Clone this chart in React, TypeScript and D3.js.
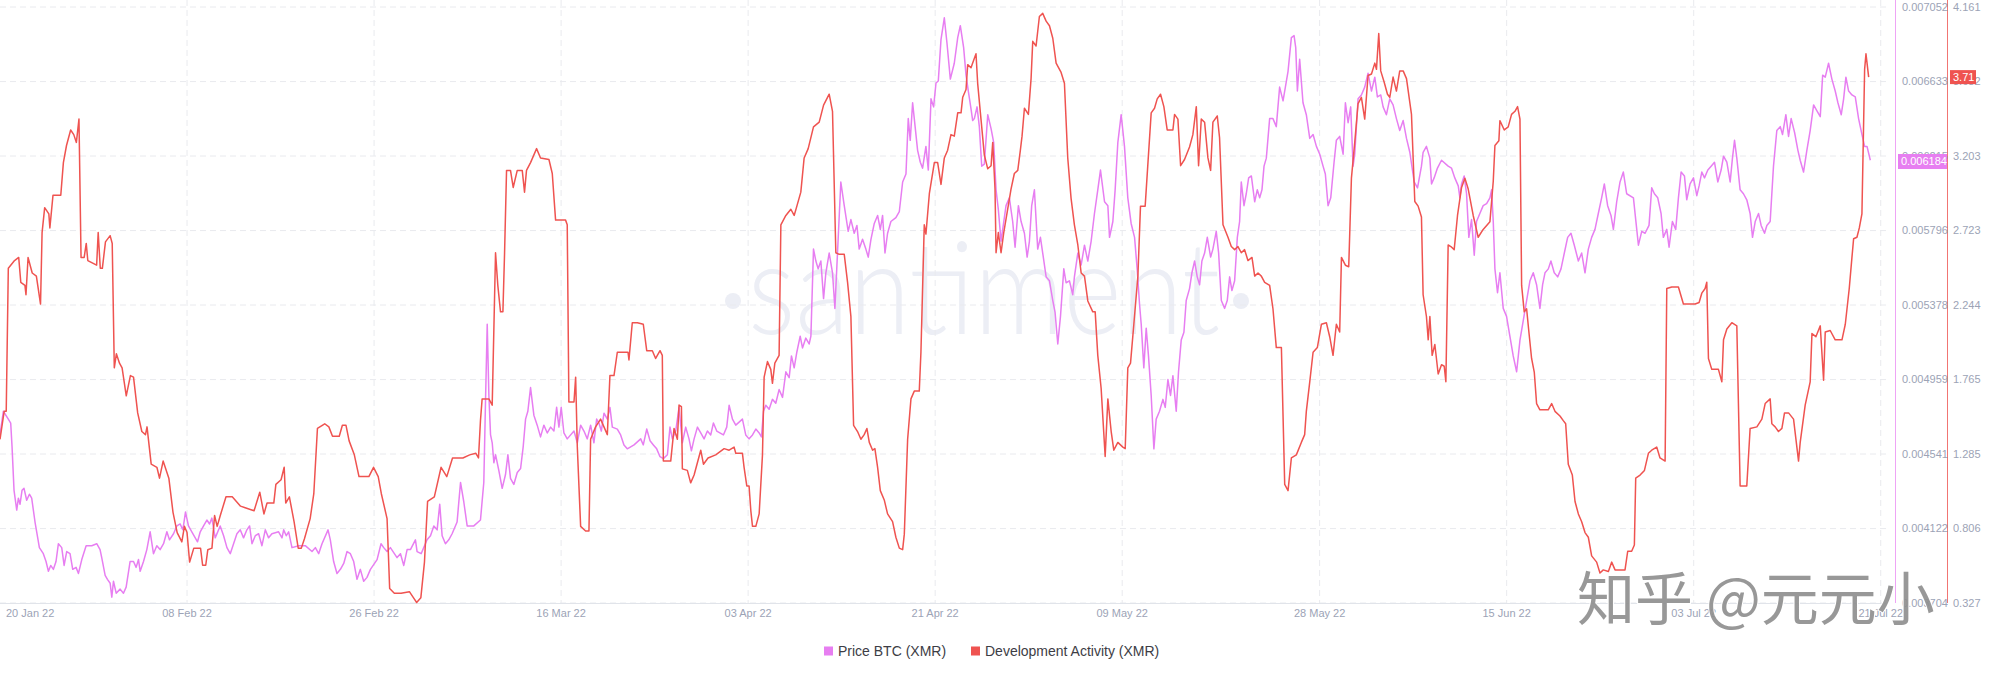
import React from "react"
import * as d3 from "d3"

// day offsets are counted from 21 Jan 2022 00:00 UTC
const START = Date.UTC(2022, 0, 21)
const DAY = 86400000
const LAST_DAY = 181.7

const xTickDates = ["2022-01-20", "2022-02-08", "2022-02-26", "2022-03-16", "2022-04-03", "2022-04-21", "2022-05-09", "2022-05-28", "2022-06-15", "2022-07-03", "2022-07-21"]
const priceTicks = [0.003704, 0.004122, 0.004541, 0.004959, 0.005378, 0.005796, 0.006215, 0.006633, 0.007052]
const devTicks = [0.327, 0.806, 1.285, 1.765, 2.244, 2.723, 3.203, 3.682, 4.161]

const lastPrice = 0.006184
const lastDev = 3.71

// [day, price in BTC]
const priceBTC: [number, number][] = [
  [0, 0.004648], [0.32, 0.004781], [0.8, 0.004737], [1.03, 0.004715], [1.16, 0.004581], [1.35, 0.004337], [1.61, 0.004226], [1.77, 0.004293], [1.93, 0.004259], [2.12, 0.004337], [2.31, 0.004348], [2.57, 0.004281], [2.83, 0.004315], [3.05, 0.004293], [3.37, 0.004159], [3.79, 0.004015], [4.17, 0.003981], [4.43, 0.003937], [4.66, 0.003882], [4.88, 0.003915], [5.14, 0.003893], [5.39, 0.003937], [5.62, 0.004037], [5.94, 0.004015], [6.17, 0.003915], [6.42, 0.003993], [6.74, 0.003981], [7.0, 0.003893], [7.32, 0.003904], [7.55, 0.00387], [7.87, 0.003948], [8.29, 0.004026], [8.83, 0.004026], [9.31, 0.004037], [9.63, 0.004004], [9.79, 0.003959], [10.12, 0.003859], [10.34, 0.003837], [10.6, 0.003815], [10.76, 0.003737], [10.92, 0.003826], [11.18, 0.003759], [11.56, 0.003782], [11.88, 0.003759], [12.14, 0.003793], [12.52, 0.003937], [12.85, 0.003937], [13.1, 0.003904], [13.33, 0.003948], [13.49, 0.003882], [13.81, 0.003937], [14.13, 0.004004], [14.45, 0.004104], [14.77, 0.003981], [15.09, 0.004026], [15.41, 0.004004], [15.74, 0.004037], [16.06, 0.004104], [16.31, 0.004059], [16.7, 0.004093], [17.02, 0.004137], [17.34, 0.004148], [17.6, 0.004115], [17.85, 0.004215], [18.14, 0.004137], [18.46, 0.004104], [19.01, 0.004048], [19.27, 0.004104], [19.59, 0.004137], [19.91, 0.00417], [20.17, 0.004148], [20.39, 0.004181], [20.71, 0.00407], [21.19, 0.004137], [21.52, 0.004082], [21.84, 0.004015], [22.16, 0.003981], [22.48, 0.004037], [22.8, 0.004093], [23.12, 0.004115], [23.44, 0.00407], [23.76, 0.004115], [24.02, 0.004137], [24.25, 0.004037], [24.57, 0.004082], [24.89, 0.004093], [25.21, 0.004026], [25.53, 0.004115], [25.85, 0.00407], [26.17, 0.004093], [26.81, 0.004104], [27.14, 0.00407], [27.3, 0.004115], [27.55, 0.004082], [27.78, 0.004104], [28.1, 0.004015], [28.74, 0.004026], [29.38, 0.004026], [30.03, 0.003993], [30.35, 0.004015], [30.67, 0.003981], [30.99, 0.004037], [31.57, 0.004115], [31.79, 0.004059], [32.11, 0.003937], [32.43, 0.00387], [32.76, 0.003893], [33.08, 0.003926], [33.4, 0.003993], [33.72, 0.003981], [34.04, 0.003937], [34.36, 0.003837], [34.68, 0.003893], [35.0, 0.003826], [35.32, 0.003848], [35.65, 0.003893], [36.29, 0.003948], [36.67, 0.004037], [36.93, 0.004015], [37.25, 0.003993], [37.57, 0.004015], [38.21, 0.003959], [38.54, 0.003981], [38.86, 0.003915], [39.18, 0.004004], [39.5, 0.004004], [39.98, 0.004059], [40.14, 0.003993], [40.53, 0.003981], [40.78, 0.004015], [41.1, 0.004059], [41.43, 0.004082], [41.75, 0.004137], [42.07, 0.004115], [42.32, 0.004259], [42.55, 0.004082], [42.87, 0.004037], [43.19, 0.004059], [43.51, 0.004093], [43.99, 0.004159], [44.32, 0.004381], [44.64, 0.00427], [44.96, 0.004137], [45.6, 0.004137], [46.24, 0.00417],
  [46.56, 0.004381], [46.73, 0.004848], [46.89, 0.00527], [47.05, 0.00487], [47.21, 0.004648], [47.37, 0.004604], [47.53, 0.004492], [47.69, 0.004537], [48.01, 0.004448], [48.33, 0.004348], [48.65, 0.004426], [48.88, 0.004537], [49.13, 0.004404], [49.45, 0.00437], [49.78, 0.004437], [50.1, 0.004459], [50.35, 0.004581], [50.58, 0.004737], [50.8, 0.004781], [51.06, 0.004914], [51.38, 0.004759], [51.7, 0.004703], [52.02, 0.004637], [52.34, 0.004703], [52.67, 0.004659], [52.99, 0.004692], [53.31, 0.00467], [53.57, 0.004803], [53.79, 0.004692], [54.01, 0.004803], [54.27, 0.004659], [54.59, 0.004626], [55.24, 0.00467], [55.56, 0.004604], [55.88, 0.004703], [56.2, 0.00467], [56.52, 0.004626], [56.84, 0.004703], [57.16, 0.004604], [57.42, 0.004737], [57.64, 0.004715], [57.87, 0.00467], [58.13, 0.00477], [58.45, 0.004737], [58.7, 0.004803], [58.93, 0.004692], [59.41, 0.004681], [59.73, 0.004648], [60.05, 0.004592], [60.37, 0.00457], [61.02, 0.004592], [61.66, 0.004626], [61.91, 0.004592], [62.24, 0.004681], [62.56, 0.004615], [62.88, 0.004592], [63.2, 0.00457], [63.52, 0.004526], [63.84, 0.004515], [64.23, 0.004537], [64.48, 0.004692], [64.71, 0.004626], [65.03, 0.00467], [65.35, 0.004803], [65.67, 0.004604], [65.99, 0.004692], [66.31, 0.004626], [66.54, 0.004559], [66.8, 0.004626], [67.12, 0.004692], [67.44, 0.004659], [67.76, 0.004626], [68.08, 0.00467], [68.4, 0.004648], [68.66, 0.004715], [68.98, 0.00467], [69.62, 0.004648], [69.94, 0.004692], [70.17, 0.004815], [70.49, 0.004737], [70.81, 0.004703], [71.45, 0.004737], [71.77, 0.004648], [72.09, 0.004626], [72.42, 0.004648], [72.74, 0.004681], [73.06, 0.004659], [73.28, 0.004637], [73.48, 0.004781], [73.7, 0.004815], [74.02, 0.004792], [74.34, 0.004848], [74.66, 0.004826], [74.98, 0.004903], [75.31, 0.004859], [75.63, 0.005003], [75.95, 0.00497], [76.17, 0.005092], [76.43, 0.005025], [76.69, 0.005114], [77.01, 0.005203], [77.23, 0.005137], [77.55, 0.005192], [77.87, 0.005159], [78.04, 0.005203], [78.29, 0.005692], [78.52, 0.005625], [78.74, 0.005581], [79.0, 0.005625], [79.26, 0.005414], [79.48, 0.005559], [79.8, 0.00567], [80.12, 0.005559], [80.35, 0.005359], [80.6, 0.00567], [80.92, 0.006069], [81.25, 0.005936], [81.63, 0.005792], [81.89, 0.005858], [82.21, 0.005781], [82.47, 0.005825], [82.69, 0.005692], [83.01, 0.005747], [83.33, 0.005692], [83.56, 0.005647], [83.82, 0.005747], [84.14, 0.005836], [84.46, 0.005881], [84.72, 0.005803], [84.94, 0.005881], [85.17, 0.00567], [85.42, 0.005781], [85.74, 0.005847], [86.22, 0.005869], [86.55, 0.005903], [86.87, 0.006069], [87.19, 0.006114], [87.41, 0.006425], [87.6, 0.006303], [87.83, 0.006514], [87.99, 0.006425], [88.31, 0.006247], [88.57, 0.00618], [88.79, 0.006147], [89.11, 0.006269], [89.34, 0.006136], [89.6, 0.006536], [89.85, 0.006491], [90.08, 0.006625], [90.3, 0.006636], [90.56, 0.006869], [90.88, 0.006991], [91.14, 0.006847], [91.46, 0.006647],
  [91.84, 0.006736], [92.17, 0.00688], [92.42, 0.006947], [92.74, 0.006824], [92.97, 0.006669], [93.19, 0.00658], [93.45, 0.00648], [93.61, 0.006414], [93.77, 0.006425], [94.03, 0.006491], [94.25, 0.00638], [94.48, 0.006158], [94.73, 0.006169], [95.06, 0.006447], [95.38, 0.006369], [95.63, 0.006291], [95.86, 0.006025], [96.08, 0.005914], [96.34, 0.005736], [96.5, 0.005803], [96.82, 0.005936], [97.14, 0.00598], [97.46, 0.005847], [97.69, 0.005703], [98.01, 0.005936], [98.27, 0.005847], [98.59, 0.005781], [98.85, 0.005647], [99.07, 0.005736], [99.29, 0.005936], [99.55, 0.006025], [99.87, 0.005692], [100.13, 0.005758], [100.35, 0.00567], [100.68, 0.005536], [101.0, 0.005514], [101.32, 0.005403], [101.54, 0.005336], [101.8, 0.005159], [102.06, 0.005314], [102.38, 0.005581], [102.6, 0.005503], [102.92, 0.005514], [103.24, 0.005436], [103.4, 0.005536], [103.73, 0.00567], [104.05, 0.005603], [104.37, 0.005714], [104.69, 0.005625], [105.01, 0.005736], [105.33, 0.005892], [105.65, 0.006025], [105.91, 0.006136], [106.3, 0.005958], [106.62, 0.005936], [106.78, 0.005758], [107.1, 0.005847], [107.32, 0.006025], [107.58, 0.006291], [107.9, 0.006447], [108.22, 0.006269], [108.54, 0.00598], [108.86, 0.005836], [109.19, 0.005758], [109.44, 0.005581], [109.67, 0.005381], [109.83, 0.00527], [110.08, 0.005025], [110.31, 0.005248], [110.53, 0.005092], [110.79, 0.00487], [111.05, 0.00457], [111.27, 0.004737], [111.59, 0.004781], [111.92, 0.004848], [112.14, 0.004803], [112.4, 0.004959], [112.65, 0.00487], [112.88, 0.004981], [113.2, 0.004781], [113.42, 0.005003], [113.68, 0.005181], [113.94, 0.005225], [114.16, 0.005403], [114.48, 0.00547], [114.71, 0.005559], [114.97, 0.005625], [115.22, 0.005536], [115.45, 0.005492], [115.67, 0.005625], [115.93, 0.00567], [116.19, 0.005758], [116.51, 0.005647], [116.73, 0.005692], [117.05, 0.005792], [117.28, 0.00567], [117.54, 0.005403], [117.86, 0.005359], [118.11, 0.005403], [118.34, 0.005536], [118.56, 0.005459], [118.82, 0.005514], [119.08, 0.005758], [119.3, 0.005847], [119.46, 0.006069], [119.72, 0.005936], [119.94, 0.006003], [120.17, 0.006092], [120.43, 0.006103], [120.75, 0.005958], [121.0, 0.006025], [121.23, 0.00598], [121.45, 0.006025], [121.65, 0.006158], [121.87, 0.006203], [122.19, 0.006425], [122.51, 0.006425], [122.83, 0.00638], [123.15, 0.006602], [123.48, 0.006525], [123.96, 0.006691], [124.28, 0.00688], [124.54, 0.006891], [124.7, 0.006824], [124.86, 0.00658], [125.08, 0.006758], [125.4, 0.006514], [125.72, 0.006447], [126.05, 0.006314], [126.37, 0.006336], [126.69, 0.006269], [127.01, 0.006225], [127.33, 0.006158], [127.55, 0.006114], [127.81, 0.005936], [128.07, 0.00598], [128.39, 0.00618], [128.61, 0.006303], [128.93, 0.006325], [129.26, 0.006225], [129.48, 0.006514], [129.74, 0.006402], [129.99, 0.006491], [130.22, 0.006158], [130.38, 0.006225], [130.7, 0.006536], [131.02, 0.006558], [131.34, 0.006602], [131.66, 0.00668], [131.99, 0.00658], [132.31, 0.006658], [132.56, 0.006547], [132.88, 0.006558], [133.11, 0.006491], [133.43, 0.006447], [133.75, 0.006536], [134.07, 0.006502], [134.39, 0.006425], [134.71, 0.006358], [135.04, 0.006414], [135.36, 0.006314], [135.68, 0.006236], [136.1, 0.006069], [136.42, 0.006036], [136.8, 0.006158],
  [136.96, 0.006236], [137.28, 0.006269], [137.61, 0.006203], [137.77, 0.006058], [138.02, 0.006092], [138.34, 0.006147], [138.73, 0.006191], [139.37, 0.006158], [139.69, 0.006147], [140.01, 0.006092], [140.34, 0.006047], [140.5, 0.00598], [140.66, 0.006058], [140.91, 0.006103], [141.14, 0.006003], [141.36, 0.005758], [141.62, 0.005858], [141.88, 0.005658], [142.1, 0.005847], [142.42, 0.005892], [142.74, 0.005936], [143.07, 0.005947], [143.39, 0.00598], [143.55, 0.006025], [143.71, 0.005847], [143.87, 0.005581], [144.12, 0.005447], [144.35, 0.005559], [144.67, 0.005359], [144.99, 0.005314], [145.31, 0.005203], [145.63, 0.005092], [145.96, 0.005003], [146.28, 0.005181], [146.6, 0.005292], [146.92, 0.005403], [147.24, 0.005514], [147.56, 0.005559], [147.88, 0.005492], [148.2, 0.005359], [148.46, 0.005492], [148.69, 0.005559], [149.01, 0.005581], [149.26, 0.005625], [149.58, 0.005559], [149.91, 0.005536], [150.23, 0.005581], [150.55, 0.00567], [150.87, 0.005758], [151.19, 0.005781], [151.51, 0.005714], [151.9, 0.005625], [152.22, 0.00567], [152.54, 0.005559], [152.86, 0.005692], [153.18, 0.005758], [153.5, 0.005803], [153.82, 0.005892], [154.14, 0.00598], [154.4, 0.006058], [154.72, 0.005936], [155.04, 0.005881], [155.27, 0.005803], [155.59, 0.005958], [155.91, 0.006069], [156.23, 0.006125], [156.55, 0.006003], [157.2, 0.00598], [157.42, 0.005858], [157.68, 0.005714], [158.0, 0.005792], [158.32, 0.005781], [158.7, 0.005825], [158.96, 0.006036], [159.22, 0.006003], [159.54, 0.00598], [159.86, 0.005892], [160.08, 0.005758], [160.41, 0.005803], [160.63, 0.005703], [160.95, 0.005847], [161.27, 0.005803], [161.53, 0.00598], [161.79, 0.006125], [162.11, 0.006103], [162.33, 0.005969], [162.65, 0.006058], [162.98, 0.006092], [163.3, 0.005992], [163.52, 0.006047], [163.78, 0.006125], [164.04, 0.006092], [164.36, 0.006136], [164.68, 0.006158], [165.0, 0.00618], [165.32, 0.006069], [165.64, 0.006136], [165.87, 0.006214], [166.19, 0.00618], [166.51, 0.006069], [166.73, 0.006203], [166.93, 0.006303], [167.15, 0.006203], [167.47, 0.006025], [167.79, 0.006003], [168.11, 0.005969], [168.43, 0.005892], [168.66, 0.005758], [168.92, 0.005847], [169.24, 0.005892], [169.49, 0.005825], [169.82, 0.005781], [170.04, 0.005825], [170.36, 0.005847], [170.68, 0.006158], [171.0, 0.006358], [171.33, 0.00638], [171.55, 0.006336], [171.87, 0.006447], [172.13, 0.006325], [172.38, 0.006425], [172.71, 0.006347], [173.03, 0.006247], [173.25, 0.006191], [173.57, 0.006125], [173.89, 0.006247], [174.21, 0.006358], [174.54, 0.006502], [174.86, 0.006469], [175.18, 0.006436], [175.41, 0.006669], [175.66, 0.006658], [175.98, 0.006736], [176.3, 0.006647], [176.62, 0.00658], [176.88, 0.006514], [177.2, 0.006447], [177.43, 0.006536], [177.65, 0.006658], [177.91, 0.00658], [178.23, 0.006558], [178.55, 0.006547], [178.87, 0.006425], [179.19, 0.006336], [179.45, 0.006269], [179.68, 0.006269], [180.0, 0.006191],
]

// [day, development activity]
const devActivity: [number, number][] = [
  [0, 1.38], [0.4, 1.56], [0.6, 1.56], [0.8, 2.48], [1.4, 2.53], [1.8, 2.55], [2, 2.39], [2.4, 2.37], [2.5, 2.31], [2.7, 2.55], [3.1, 2.45], [3.5, 2.43], [3.9, 2.25], [4.05, 2.71], [4.3, 2.87], [4.7, 2.83], [4.8, 2.74], [5.1, 2.95], [5.85, 2.95], [6.1, 3.16], [6.4, 3.27], [6.8, 3.37], [7.1, 3.34], [7.35, 3.29], [7.6, 3.44], [7.8, 2.55], [8.1, 2.55], [8.3, 2.64], [8.45, 2.53], [9.3, 2.5], [9.45, 2.71], [9.65, 2.48], [9.85, 2.48], [10.15, 2.65], [10.6, 2.69], [10.8, 2.64], [11, 1.84], [11.2, 1.93], [11.5, 1.87], [11.75, 1.84], [12.15, 1.66], [12.55, 1.79], [12.85, 1.78], [13.25, 1.55], [13.65, 1.43], [14, 1.41], [14.15, 1.46], [14.55, 1.22], [15.1, 1.2], [15.35, 1.13], [15.7, 1.24], [16.25, 1.13], [16.65, 0.91], [17.05, 0.78], [17.5, 0.72], [17.75, 0.82], [18, 0.78], [18.25, 0.59], [18.65, 0.68], [19.3, 0.68], [19.5, 0.57], [19.8, 0.57], [20, 0.67], [20.4, 0.68], [20.65, 0.89], [20.9, 0.82], [21.2, 0.89], [21.75, 1.01], [22.35, 1.01], [23.15, 0.95], [23.6, 0.94], [24.45, 0.92], [25, 1.04], [25.4, 0.9], [25.7, 0.97], [26.35, 0.97], [26.55, 1.09], [27.05, 1.12], [27.35, 1.2], [27.5, 0.97], [27.85, 1.01], [28.3, 0.85], [28.7, 0.68], [29, 0.68], [29.3, 0.74], [29.85, 0.87], [30.2, 1.03], [30.55, 1.45], [31.25, 1.48], [31.65, 1.46], [32, 1.4], [32.65, 1.4], [32.95, 1.47], [33.3, 1.47], [33.6, 1.37], [34.1, 1.28], [34.55, 1.14], [35.5, 1.14], [35.95, 1.2], [36.4, 1.14], [36.7, 1.03], [37.25, 0.87], [37.5, 0.42], [37.95, 0.39], [38.6, 0.39], [39.4, 0.4], [39.8, 0.36], [40.1, 0.33], [40.5, 0.36], [40.85, 0.59], [41.15, 0.98], [41.8, 1.01], [42.45, 1.2], [43, 1.14], [43.55, 1.26], [44.55, 1.26], [45.2, 1.28], [45.8, 1.29], [46.05, 1.26],
  [46.24, 1.5], [46.4, 1.64], [47.05, 1.64], [47.37, 1.6], [47.69, 2.58], [47.91, 2.37], [48.17, 2.2], [48.4, 2.2], [48.56, 2.58], [48.75, 3.11], [49.13, 3.11], [49.39, 3], [49.78, 3.11], [50.26, 3.11], [50.48, 2.97], [50.67, 3.11], [51.06, 3.16], [51.64, 3.25], [52.02, 3.19], [52.83, 3.18], [53.15, 3.09], [53.47, 2.79], [54.43, 2.79], [54.59, 2.76], [54.75, 1.62], [55.24, 1.62], [55.4, 1.78], [55.56, 1.33], [55.88, 0.82], [56.36, 0.79], [56.68, 0.79], [56.84, 1.38], [57.32, 1.46], [57.8, 1.51], [58.45, 1.41], [58.7, 1.79], [59.09, 1.79], [59.41, 1.94], [60.44, 1.94], [60.53, 1.89], [60.85, 2.13], [61.34, 2.13], [61.91, 2.12], [62.24, 1.95], [62.78, 1.95], [63.1, 1.9], [63.52, 1.95], [63.74, 1.92], [63.84, 1.24], [64.55, 1.24], [64.87, 1.45], [65.19, 1.38], [65.35, 1.6], [65.58, 1.59], [65.67, 1.19], [66.15, 1.18], [66.47, 1.1], [66.8, 1.15], [67.44, 1.31], [67.7, 1.22], [68.14, 1.26], [68.88, 1.28], [69.69, 1.32], [70.17, 1.31], [70.65, 1.33], [70.81, 1.29], [71.45, 1.29], [71.61, 1.2], [71.87, 1.08], [72.09, 1.08], [72.26, 0.92], [72.42, 0.82], [72.74, 0.82], [73.06, 0.9], [73.38, 1.28], [73.54, 1.78], [73.86, 1.88], [74.18, 1.83], [74.34, 1.74], [74.57, 1.87], [74.98, 1.92], [75.15, 2.76], [75.63, 2.82], [76.11, 2.86], [76.43, 2.82], [76.69, 2.88], [77.07, 2.97], [77.39, 3.19], [77.78, 3.25], [78.29, 3.39], [78.84, 3.42], [79.26, 3.53], [79.8, 3.6], [80.12, 3.49], [80.44, 2.58], [80.77, 2.57], [81.25, 2.57], [81.57, 2.39], [81.89, 2.17], [82.15, 1.47], [82.53, 1.43], [82.85, 1.38], [83.17, 1.41], [83.43, 1.45], [83.66, 1.36], [83.98, 1.31], [84.2, 1.32], [84.46, 1.2], [84.72, 1.05], [85.1, 0.99], [85.42, 0.9], [85.9, 0.85], [86.22, 0.75], [86.55, 0.68], [86.87, 0.67], [87.03, 0.77], [87.35, 1.38], [87.67, 1.64], [87.99, 1.69], [88.47, 1.69], [88.63, 1.94], [88.95, 2.76], [89.11, 2.7], [89.44, 2.96], [89.92, 3.16], [90.24, 3.16], [90.56, 3.02], [90.88, 3.19], [91.2, 3.24], [91.52, 3.34],
  [91.84, 3.33], [92.17, 3.48], [92.49, 3.48], [92.65, 3.58], [92.97, 3.63], [93.13, 3.79], [93.45, 3.77], [93.61, 3.8], [93.93, 3.86], [94.09, 3.67], [94.41, 3.44], [94.73, 3.21], [95.06, 3.12], [95.38, 3.14], [95.54, 3.29], [95.76, 2.99], [95.86, 2.58], [96.08, 2.71], [96.34, 2.58], [96.6, 2.71], [96.98, 2.86], [97.3, 2.99], [97.62, 3.09], [97.95, 3.11], [98.2, 3.24], [98.36, 3.33], [98.59, 3.51], [98.97, 3.47], [99.23, 3.7], [99.39, 3.94], [99.71, 3.91], [100.03, 4.1], [100.35, 4.12], [100.68, 4.07], [101, 4.04], [101.32, 3.96], [101.64, 3.8], [102.12, 3.74], [102.44, 3.67], [102.76, 3.19], [103.08, 2.93], [103.4, 2.76], [103.73, 2.63], [104.05, 2.45], [104.37, 2.43], [104.69, 2.27], [105.17, 2.2], [105.4, 2.2], [105.65, 1.92], [105.97, 1.71], [106.36, 1.27], [106.62, 1.64], [106.94, 1.43], [107.19, 1.31], [107.58, 1.36], [108.06, 1.33], [108.29, 1.32], [108.54, 1.84], [108.8, 1.87], [109.12, 2.12], [109.51, 2.43], [109.76, 2.88], [110.21, 2.88], [110.47, 3.15], [110.79, 3.48], [111.11, 3.51], [111.37, 3.57], [111.69, 3.6], [112.01, 3.52], [112.33, 3.37], [112.88, 3.37], [113.04, 3.47], [113.36, 3.44], [113.62, 3.14], [114, 3.18], [114.48, 3.26], [114.8, 3.34], [115.13, 3.52], [115.35, 3.14], [115.61, 3.44], [115.93, 3.42], [116.25, 3.19], [116.51, 3.11], [116.73, 3.42], [117.15, 3.46], [117.37, 3.32], [117.7, 2.76], [118.18, 2.68], [118.5, 2.62], [118.82, 2.6], [119.14, 2.62], [119.46, 2.58], [119.78, 2.6], [120.1, 2.53], [120.49, 2.55], [120.75, 2.43], [121.07, 2.45], [121.39, 2.43], [121.71, 2.39], [122.19, 2.37], [122.51, 2.22], [122.83, 1.97], [123.32, 1.97], [123.64, 1.09], [123.96, 1.05], [124.28, 1.26], [124.76, 1.28], [125.24, 1.36], [125.56, 1.41], [125.72, 1.56], [126.05, 1.75], [126.37, 1.94], [126.78, 1.97], [127.17, 2.12], [127.65, 2.13], [127.97, 2.04], [128.29, 1.92], [128.61, 2.12], [128.93, 2.07], [129.1, 2.55], [129.48, 2.5], [129.8, 2.49], [130.06, 3.06], [130.38, 3.29], [130.7, 3.54], [131.02, 3.58], [131.34, 3.44], [131.66, 3.72], [131.99, 3.73], [132.31, 3.8], [132.47, 3.76], [132.69, 3.99], [132.88, 3.75], [133.2, 3.68], [133.53, 3.6], [133.75, 3.58], [134.07, 3.71], [134.39, 3.62], [134.71, 3.75], [135.04, 3.75], [135.36, 3.7], [135.84, 3.47], [136.16, 2.91], [136.48, 2.88], [136.8, 2.81],
  [136.96, 2.31], [137.28, 2.17], [137.45, 2.02], [137.61, 2.17], [137.83, 1.92], [138.09, 1.99], [138.41, 1.8], [138.73, 1.86], [138.99, 1.85], [139.15, 1.75], [139.37, 2.63], [139.63, 2.62], [139.95, 2.6], [140.27, 2.82], [140.66, 3], [140.98, 3.06], [141.3, 2.99], [141.78, 2.82], [142.26, 2.68], [142.74, 2.73], [143.39, 2.78], [143.71, 3.04], [143.87, 3.27], [144.25, 3.3], [144.35, 3.43], [144.77, 3.37], [145.15, 3.39], [145.47, 3.47], [145.8, 3.49], [146.05, 3.52], [146.28, 3.44], [146.44, 2.37], [146.69, 2.2], [146.92, 2.22], [147.14, 2.07], [147.4, 1.9], [147.66, 1.81], [147.88, 1.61], [148.2, 1.57], [149, 1.57], [149.33, 1.61], [149.65, 1.56], [150.13, 1.53], [150.45, 1.5], [150.68, 1.48], [150.93, 1.22], [151.32, 1.15], [151.58, 0.98], [151.9, 0.9], [152.22, 0.85], [152.54, 0.78], [152.86, 0.75], [153.18, 0.63], [153.66, 0.59], [153.98, 0.52], [154.3, 0.54], [154.79, 0.53], [155.11, 0.59], [155.43, 0.54], [156.39, 0.54], [156.65, 0.66], [157.03, 0.66], [157.29, 0.7], [157.42, 1.13], [157.84, 1.15], [158.26, 1.18], [158.64, 1.29], [158.96, 1.31], [159.44, 1.33], [159.76, 1.26], [160.25, 1.24], [160.41, 2.35], [160.89, 2.36], [161.53, 2.36], [162.01, 2.25], [163.14, 2.25], [163.52, 2.26], [163.78, 2.32], [164.1, 2.35], [164.26, 2.39], [164.42, 1.9], [164.74, 1.83], [165.38, 1.83], [165.71, 1.75], [165.87, 2.02], [166.19, 2.09], [166.67, 2.13], [167.15, 2.11], [167.47, 1.08], [168.11, 1.08], [168.43, 1.45], [169.08, 1.46], [169.56, 1.51], [169.88, 1.61], [170.36, 1.64], [170.52, 1.48], [170.84, 1.46], [171.16, 1.43], [171.49, 1.45], [171.74, 1.55], [172.13, 1.55], [172.61, 1.51], [173.09, 1.24], [173.25, 1.36], [173.73, 1.6], [174.21, 1.75], [174.38, 2.06], [174.76, 2.04], [175.18, 2.11], [175.5, 1.76], [175.66, 2.07], [176.14, 2.08], [176.62, 2.02], [177.27, 2.02], [177.59, 2.12], [177.97, 2.35], [178.23, 2.55], [178.39, 2.67], [178.71, 2.68], [178.94, 2.74], [179.19, 2.83], [179.45, 3.76], [179.58, 3.86], [179.84, 3.71],
]

const PINK = "#e77ef1"
const RED = "#ef5350"
const AXIS_TEXT = "#9ca3b6"
const GRID = "#e9eaee"

const W = 1999
const H = 677
const plotRight = 1888
const plotTop = 7
const plotBottom = 603

export default function App() {
  const x = d3.scaleUtc()
    .domain([new Date(START), new Date(START + LAST_DAY * DAY)])
    .range([0, plotRight])
  const yPrice = d3.scaleLinear().domain([priceTicks[0], priceTicks[priceTicks.length - 1]]).range([plotBottom, plotTop])
  const yDev = d3.scaleLinear().domain([devTicks[0], devTicks[devTicks.length - 1]]).range([plotBottom, plotTop])

  const fmtDate = d3.utcFormat("%d %b %y")
  const toDate = (d: number) => new Date(START + d * DAY)

  const priceLine = d3.line<[number, number]>()
    .x(d => x(toDate(d[0])))
    .y(d => yPrice(d[1]))
  const devLine = d3.line<[number, number]>()
    .x(d => x(toDate(d[0])))
    .y(d => yDev(d[1]))

  const font = "'Liberation Sans', Arial, sans-serif"

  return (
    <svg width={W} height={H} style={{ display: "block" }} fontFamily={font}>
      <style>{`body{margin:0}`}</style>
      <rect width={W} height={H} fill="#fff" />

      {/* watermark */}
      <g fill="#eceef5">
        <circle cx={733} cy={301} r={8} />
        <text x={748} y={334} fontSize={128} fontFamily="Lato, 'Liberation Sans', sans-serif" fontWeight={300}
          textLength={472} lengthAdjust="spacingAndGlyphs">santiment</text>
        <circle cx={1241} cy={301} r={8} />
      </g>

      {/* grid */}
      {priceTicks.map((t, i) => (
        <line key={"h" + i} x1={0} x2={plotRight} y1={yPrice(t)} y2={yPrice(t)}
          stroke={GRID} strokeDasharray="6 4" />
      ))}
      {xTickDates.slice(1).map((s, i) => {
        const px = x(new Date(s + "T00:00:00Z"))
        return <line key={"v" + i} x1={px} x2={px} y1={0} y2={plotBottom} stroke={GRID} strokeDasharray="6 4" />
      })}
      <line x1={0} x2={plotRight} y1={plotBottom + 0.5} y2={plotBottom + 0.5} stroke="#e1e4ea" />

      {/* x tick labels */}
      {xTickDates.map((s, i) => {
        const dt = new Date(s + "T00:00:00Z")
        const first = i === 0
        return (
          <text key={"xl" + i} x={first ? 6 : x(dt)} y={617} fontSize={11} fill={AXIS_TEXT}
            textAnchor={first ? "start" : "middle"}>{fmtDate(dt)}</text>
        )
      })}

      {/* series */}
      <path d={priceLine(priceBTC) || ""} fill="none" stroke={PINK} strokeWidth={1.5} strokeLinejoin="round" />
      <path d={devLine(devActivity) || ""} fill="none" stroke={RED} strokeWidth={1.5} strokeLinejoin="round" />

      {/* right axes */}
      <line x1={1895.5} x2={1895.5} y1={0} y2={plotBottom} stroke={PINK} strokeOpacity={0.7} />
      <line x1={1947.5} x2={1947.5} y1={0} y2={plotBottom} stroke={RED} strokeOpacity={0.8} />
      {priceTicks.map((t, i) => (
        <text key={"pt" + i} x={1902} y={yPrice(t)} dy="0.35em" fontSize={11} fill={AXIS_TEXT}>{t.toFixed(6)}</text>
      ))}
      {devTicks.map((t, i) => (
        <text key={"dt" + i} x={1953} y={yDev(t)} dy="0.35em" fontSize={11} fill={AXIS_TEXT}>{t.toFixed(3)}</text>
      ))}

      {/* last-value markers */}
      <rect x={1898} y={yPrice(lastPrice) - 7.5} width={49} height={15} fill={PINK} />
      <text x={1901} y={yPrice(lastPrice)} dy="0.35em" fontSize={11} fill="#fff">{lastPrice.toFixed(6)}</text>
      <rect x={1950} y={yDev(lastDev) - 7} width={26} height={14} fill={RED} />
      <text x={1953} y={yDev(lastDev)} dy="0.35em" fontSize={11} fill="#fff">{lastDev.toFixed(2)}</text>

      {/* legend */}
      <rect x={824} y={646.5} width={9} height={9} fill={PINK} />
      <text x={838} y={656} fontSize={14} fill="#3d3d45">Price BTC (XMR)</text>
      <rect x={971} y={646.5} width={9} height={9} fill={RED} />
      <text x={985} y={656} fontSize={14} fill="#3d3d45">Development Activity (XMR)</text>

      {/* site watermark */}
      <text x={1577} y={620} fontSize={58} fill="#8d8d8d" fillOpacity={0.9} stroke="#fff" strokeWidth={2}
        paintOrder="stroke" fontFamily="'Noto Sans CJK SC', sans-serif">知乎 @元元小</text>
    </svg>
  )
}
